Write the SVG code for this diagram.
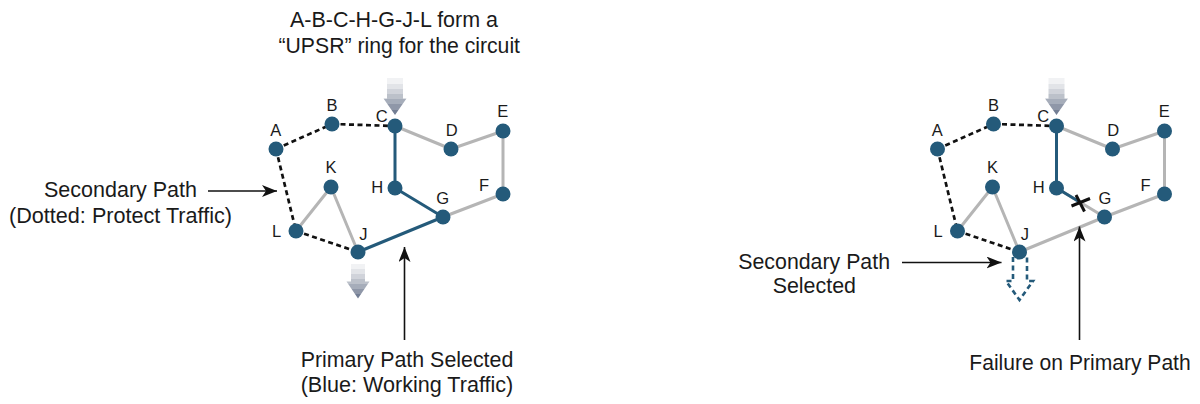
<svg xmlns="http://www.w3.org/2000/svg" width="1200" height="404" viewBox="0 0 1200 404">
  <style>
    .txt { font-family: "Liberation Sans", Arial, sans-serif; font-size: 22px; fill: #1a1a1a; }
    .lbl { font-family: "Liberation Sans", Arial, sans-serif; font-size: 16.5px; fill: #1a1a1a; text-anchor: middle; }
    .node { fill: #245a7a; }
    .gray { stroke: #b5b5b5; stroke-width: 3; fill: none; stroke-linecap: round; }
    .blue { stroke: #245a7a; stroke-width: 3; fill: none; stroke-linecap: round; }
    .dash { stroke: #111111; stroke-width: 2.7; fill: none; stroke-dasharray: 5 3.5; }
    .note { stroke: #111111; stroke-width: 1.6; fill: none; marker-end: url(#head); }
    .flow { fill: url(#fade); }
    .alt { stroke: #245a7a; stroke-width: 2.6; fill: none; stroke-dasharray: 5 3.5; stroke-linejoin: miter; }
    .cut { stroke: #111111; stroke-width: 3; stroke-linecap: butt; }
  </style>
  <defs>
    <marker id="head" markerUnits="userSpaceOnUse" markerWidth="16" markerHeight="13" refX="15" refY="6" orient="auto">
      <path d="M0,0 L15,6 L0,12 L4,6 z" fill="#111111"/>
    </marker>
    <!-- stepped fade for the traffic direction arrows -->
    <linearGradient id="fade" x1="0" y1="0" x2="0" y2="1">
      <stop offset="0" stop-color="#ffffff"/>
      <stop offset="0.125" stop-color="#ffffff"/>
      <stop offset="0.125" stop-color="#f1f2f4"/>
      <stop offset="0.25" stop-color="#f1f2f4"/>
      <stop offset="0.25" stop-color="#e2e4e8"/>
      <stop offset="0.375" stop-color="#e2e4e8"/>
      <stop offset="0.375" stop-color="#d0d3da"/>
      <stop offset="0.5" stop-color="#d0d3da"/>
      <stop offset="0.5" stop-color="#bcc1ca"/>
      <stop offset="0.625" stop-color="#bcc1ca"/>
      <stop offset="0.625" stop-color="#a6adba"/>
      <stop offset="0.75" stop-color="#a6adba"/>
      <stop offset="0.75" stop-color="#8f97a8"/>
      <stop offset="0.875" stop-color="#8f97a8"/>
      <stop offset="0.875" stop-color="#737e94"/>
      <stop offset="1" stop-color="#737e94"/>
    </linearGradient>
  </defs>

  <!-- ===== connectors ===== -->
  <g id="connectors">
    <!-- left ring: working path selected -->
    <line class="gray" x1="395" y1="126" x2="451" y2="149"/>
    <line class="gray" x1="451" y1="149" x2="503" y2="131"/>
    <line class="gray" x1="503" y1="131" x2="503" y2="194"/>
    <line class="gray" x1="503" y1="194" x2="443" y2="217"/>
    <line class="gray" x1="296" y1="231" x2="331" y2="187"/>
    <line class="gray" x1="331" y1="187" x2="358" y2="252"/>
    <line class="dash" x1="276" y1="149" x2="332" y2="124"/>
    <line class="dash" x1="332" y1="124" x2="395" y2="126"/>
    <line class="dash" x1="276" y1="149" x2="296" y2="231"/>
    <line class="dash" x1="296" y1="231" x2="358" y2="252"/>
    <line class="blue" x1="395" y1="126" x2="395" y2="188"/>
    <line class="blue" x1="395" y1="188" x2="443" y2="217"/>
    <line class="blue" x1="443" y1="217" x2="358" y2="252"/>

    <!-- right ring: after the H-G failure -->
    <line class="gray" x1="1056.5" y1="126" x2="1112.5" y2="149"/>
    <line class="gray" x1="1112.5" y1="149" x2="1164.5" y2="131"/>
    <line class="gray" x1="1164.5" y1="131" x2="1164.5" y2="194"/>
    <line class="gray" x1="1164.5" y1="194" x2="1104.5" y2="217"/>
    <line class="gray" x1="957.5" y1="231" x2="992.5" y2="187"/>
    <line class="gray" x1="992.5" y1="187" x2="1019.5" y2="252"/>
    <line class="gray" x1="1056.5" y1="188" x2="1104.5" y2="217"/>
    <line class="gray" x1="1104.5" y1="217" x2="1019.5" y2="252"/>
    <line class="dash" x1="937.5" y1="149" x2="993.5" y2="124"/>
    <line class="dash" x1="993.5" y1="124" x2="1056.5" y2="126"/>
    <line class="dash" x1="937.5" y1="149" x2="957.5" y2="231"/>
    <line class="dash" x1="957.5" y1="231" x2="1019.5" y2="252"/>
    <line class="blue" x1="1056.5" y1="126" x2="1056.5" y2="188"/>
    <line class="blue" x1="1056.5" y1="188" x2="1080.5" y2="202.5"/>

    <!-- traffic in / out -->
    <path class="flow" d="M387,73 H403 V98.5 H406.5 L395,115 L383.5,98.5 H387 Z"/>
    <path class="flow" d="M351,259 H365 V281.5 H369.5 L358,298.5 L346.5,281.5 H351 Z"/>
    <path class="flow" d="M1048.5,73 H1064.5 V98.5 H1068 L1056.5,115 L1045,98.5 H1048.5 Z"/>
    <path class="alt" d="M1013,257 V281 H1006 L1019.5,300 L1033,281 H1027 V257"/>

    <!-- failure mark -->
    <line class="cut" x1="1076" y1="195" x2="1084.5" y2="211.5"/>
    <line class="cut" x1="1071.5" y1="206" x2="1090" y2="198.5"/>

    <!-- callout arrows -->
    <line class="note" x1="208" y1="191" x2="277" y2="191"/>
    <line class="note" x1="404.5" y1="340" x2="404.5" y2="247"/>
    <line class="note" x1="902" y1="262.5" x2="1001.5" y2="262.5"/>
    <line class="note" x1="1079.5" y1="340" x2="1079.5" y2="226.5"/>
  </g>

  <!-- ===== left ring nodes ===== -->
  <g id="l-A"><circle class="node" cx="276" cy="149" r="7.5"/><text class="lbl" x="275.7" y="136">A</text></g>
  <g id="l-B"><circle class="node" cx="332" cy="124" r="7.5"/><text class="lbl" x="332" y="111">B</text></g>
  <g id="l-C"><circle class="node" cx="395" cy="126" r="7.5"/><text class="lbl" x="381.7" y="122">C</text></g>
  <g id="l-D"><circle class="node" cx="451" cy="149" r="7.5"/><text class="lbl" x="451.7" y="136">D</text></g>
  <g id="l-E"><circle class="node" cx="503" cy="131" r="7.5"/><text class="lbl" x="502.7" y="117">E</text></g>
  <g id="l-F"><circle class="node" cx="503" cy="194" r="7.5"/><text class="lbl" x="484" y="191">F</text></g>
  <g id="l-G"><circle class="node" cx="443" cy="217" r="7.5"/><text class="lbl" x="442.7" y="204">G</text></g>
  <g id="l-H"><circle class="node" cx="395" cy="188" r="7.5"/><text class="lbl" x="377.3" y="193">H</text></g>
  <g id="l-K"><circle class="node" cx="331" cy="187" r="7.5"/><text class="lbl" x="331" y="173">K</text></g>
  <g id="l-L"><circle class="node" cx="296" cy="231" r="7.5"/><text class="lbl" x="276.7" y="237">L</text></g>
  <g id="l-J"><circle class="node" cx="358" cy="252" r="7.5"/><text class="lbl" x="363.3" y="240">J</text></g>

  <!-- ===== right ring nodes ===== -->
  <g id="r-A"><circle class="node" cx="937.5" cy="149" r="7.5"/><text class="lbl" x="937.2" y="136">A</text></g>
  <g id="r-B"><circle class="node" cx="993.5" cy="124" r="7.5"/><text class="lbl" x="993.5" y="111">B</text></g>
  <g id="r-C"><circle class="node" cx="1056.5" cy="126" r="7.5"/><text class="lbl" x="1043.2" y="122">C</text></g>
  <g id="r-D"><circle class="node" cx="1112.5" cy="149" r="7.5"/><text class="lbl" x="1113.2" y="136">D</text></g>
  <g id="r-E"><circle class="node" cx="1164.5" cy="131" r="7.5"/><text class="lbl" x="1164.2" y="117">E</text></g>
  <g id="r-F"><circle class="node" cx="1164.5" cy="194" r="7.5"/><text class="lbl" x="1145.5" y="191">F</text></g>
  <g id="r-G"><circle class="node" cx="1104.5" cy="217" r="7.5"/><text class="lbl" x="1105" y="204">G</text></g>
  <g id="r-H"><circle class="node" cx="1056.5" cy="188" r="7.5"/><text class="lbl" x="1038.8" y="193">H</text></g>
  <g id="r-K"><circle class="node" cx="992.5" cy="187" r="7.5"/><text class="lbl" x="992.5" y="173">K</text></g>
  <g id="r-L"><circle class="node" cx="957.5" cy="231" r="7.5"/><text class="lbl" x="938.2" y="237">L</text></g>
  <g id="r-J"><circle class="node" cx="1019.5" cy="252" r="7.5"/><text class="lbl" x="1024.8" y="240">J</text></g>

  <!-- ===== callout texts ===== -->
  <g id="note-ring">
    <text class="txt" x="290" y="27" textLength="208" lengthAdjust="spacingAndGlyphs">A-B-C-H-G-J-L form a</text>
    <text class="txt" x="278.5" y="53" textLength="241.5" lengthAdjust="spacingAndGlyphs">“UPSR” ring for the circuit</text>
  </g>
  <g id="note-secondary">
    <text class="txt" x="44" y="197" textLength="153" lengthAdjust="spacingAndGlyphs">Secondary Path</text>
    <text class="txt" x="9" y="223" textLength="223" lengthAdjust="spacingAndGlyphs">(Dotted: Protect Traffic)</text>
  </g>
  <g id="note-primary">
    <text class="txt" x="300.7" y="367" textLength="212.6" lengthAdjust="spacingAndGlyphs">Primary Path Selected</text>
    <text class="txt" x="300.7" y="392" textLength="212.6" lengthAdjust="spacingAndGlyphs">(Blue: Working Traffic)</text>
  </g>
  <g id="note-selected">
    <text class="txt" x="738.3" y="269.3" textLength="151.7" lengthAdjust="spacingAndGlyphs">Secondary Path</text>
    <text class="txt" x="772.7" y="293.3" textLength="83.3" lengthAdjust="spacingAndGlyphs">Selected</text>
  </g>
  <g id="note-failure">
    <text class="txt" x="969.3" y="370" textLength="221.4" lengthAdjust="spacingAndGlyphs">Failure on Primary Path</text>
  </g>
</svg>
